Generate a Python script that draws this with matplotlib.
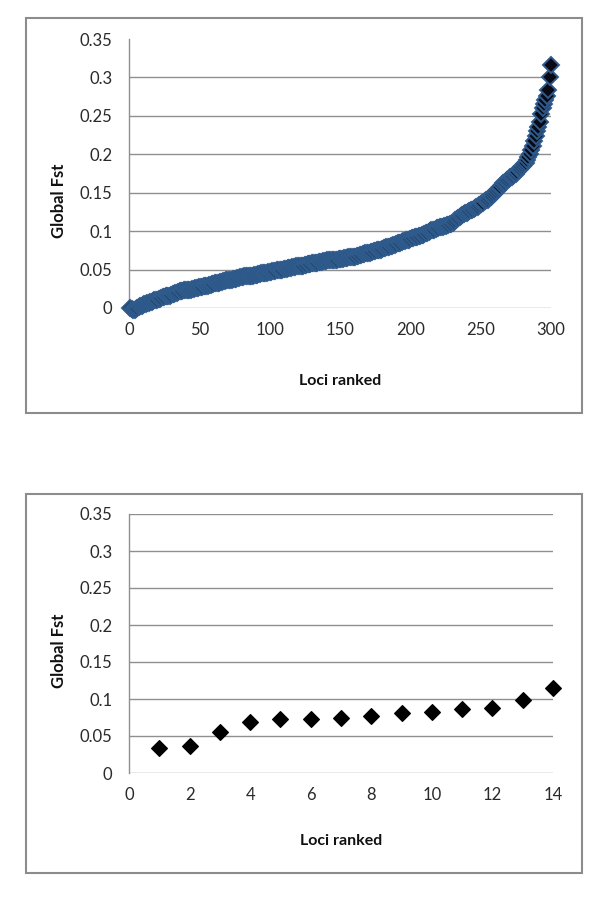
import matplotlib
matplotlib.use("Agg")
import matplotlib.pyplot as plt
from matplotlib.patches import Rectangle

# ---- data: top panel (all loci ranked) ----
fst_all = [
    0.000, -0.001, -0.002, -0.002, -0.001, 0.000, 0.001, 0.002, 0.003, 0.004,
    0.005, 0.005, 0.006, 0.007, 0.008, 0.008, 0.009, 0.010, 0.010, 0.011,
    0.012, 0.012, 0.013, 0.014, 0.014, 0.015, 0.015, 0.016, 0.016, 0.017,
    0.018, 0.018, 0.019, 0.020, 0.021, 0.022, 0.022, 0.022, 0.023, 0.023,
    0.023, 0.024, 0.024, 0.024, 0.025, 0.025, 0.026, 0.026, 0.026, 0.027,
    0.027, 0.027, 0.028, 0.028, 0.029, 0.029, 0.030, 0.030, 0.031, 0.031,
    0.032, 0.032, 0.033, 0.033, 0.034, 0.034, 0.035, 0.035, 0.036, 0.036,
    0.037, 0.037, 0.037, 0.038, 0.038, 0.038, 0.039, 0.039, 0.040, 0.040,
    0.040, 0.041, 0.041, 0.041, 0.042, 0.042, 0.042, 0.042, 0.043, 0.043,
    0.043, 0.044, 0.044, 0.045, 0.045, 0.045, 0.046, 0.046, 0.047, 0.047,
    0.047, 0.048, 0.048, 0.048, 0.049, 0.049, 0.050, 0.050, 0.050, 0.051,
    0.051, 0.051, 0.052, 0.052, 0.052, 0.053, 0.053, 0.053, 0.054, 0.054,
    0.054, 0.055, 0.055, 0.055, 0.056, 0.056, 0.057, 0.057, 0.057, 0.058,
    0.058, 0.059, 0.059, 0.059, 0.060, 0.060, 0.060, 0.061, 0.061, 0.061,
    0.062, 0.062, 0.062, 0.062, 0.063, 0.063, 0.063, 0.063, 0.064, 0.064,
    0.064, 0.064, 0.065, 0.065, 0.065, 0.066, 0.066, 0.066, 0.067, 0.067,
    0.067, 0.068, 0.068, 0.069, 0.069, 0.070, 0.070, 0.071, 0.071, 0.072,
    0.072, 0.073, 0.073, 0.074, 0.074, 0.075, 0.075, 0.076, 0.076, 0.077,
    0.078, 0.078, 0.079, 0.079, 0.080, 0.081, 0.081, 0.082, 0.082, 0.083,
    0.084, 0.084, 0.085, 0.086, 0.087, 0.087, 0.088, 0.089, 0.089, 0.090,
    0.091, 0.091, 0.092, 0.093, 0.093, 0.094, 0.094, 0.095, 0.095, 0.096,
    0.097, 0.098, 0.099, 0.100, 0.101, 0.102, 0.102, 0.103, 0.104, 0.104,
    0.105, 0.106, 0.106, 0.107, 0.107, 0.108, 0.108, 0.109, 0.109, 0.110,
    0.112, 0.114, 0.116, 0.117, 0.119, 0.120, 0.121, 0.122, 0.123, 0.124,
    0.125, 0.126, 0.127, 0.128, 0.129, 0.130, 0.131, 0.132, 0.134, 0.135,
    0.136, 0.137, 0.139, 0.140, 0.141, 0.143, 0.145, 0.146, 0.148, 0.150,
    0.152, 0.154, 0.156, 0.158, 0.160, 0.162, 0.163, 0.165, 0.166, 0.168,
    0.170, 0.171, 0.172, 0.174, 0.175, 0.177, 0.179, 0.181, 0.183, 0.185,
    0.187, 0.189, 0.192, 0.196, 0.200, 0.205, 0.211, 0.217, 0.224, 0.230,
    0.236, 0.242, 0.252, 0.260, 0.265, 0.270, 0.276, 0.283, 0.300, 0.316,
]
rank_all = list(range(1, len(fst_all) + 1))

# ---- data: bottom panel (selected loci ranked) ----
rank_sel = [1, 2, 3, 4, 5, 6, 7, 8, 9, 10, 11, 12, 13, 14]
fst_sel = [0.034, 0.037, 0.056, 0.069, 0.073, 0.073, 0.074,
           0.077, 0.081, 0.082, 0.086, 0.088, 0.099, 0.115]

yticks = [0, 0.05, 0.1, 0.15, 0.2, 0.25, 0.3, 0.35]
ytick_labels = ["0", "0.05", "0.1", "0.15", "0.2", "0.25", "0.3", "0.35"]
xticks_top = [0, 50, 100, 150, 200, 250, 300]
xticks_bot = [0, 2, 4, 6, 8, 10, 12, 14]

x_label = "Loci ranked"
y_label = "Global Fst"

plt.rcParams['font.family'] = ['Lato', 'DejaVu Sans']

W, H = 600, 898
fig = plt.figure(figsize=(W / 100, H / 100), dpi=100)

def fx(px):
    return px / W

def fy(py):
    return 1 - py / H

# panel borders
for (x0, y0, x1, y1) in [(26, 18, 582, 413), (26, 494, 582, 873)]:
    fig.patches.append(Rectangle((fx(x0), fy(y1)), fx(x1) - fx(x0), fy(y0) - fy(y1),
                                 transform=fig.transFigure, fill=False,
                                 edgecolor='#8c8c8c', linewidth=1.5))

grid_col = '#8f8f8f'
tick_col = '#2a2a2a'

def style(ax, xticks, xmax, grid_vals, ylab_y, xlab_y):
    ax.set_xlim(0, xmax)
    ax.set_ylim(0, 0.35)
    ax.set_xticks(xticks)
    ax.set_xticklabels([str(t) for t in xticks])
    ax.set_yticks(yticks)
    ax.set_yticklabels(ytick_labels)
    for v in grid_vals:
        ax.axhline(v, color=grid_col, linewidth=1.0, zorder=0)
    for s in ['top', 'right', 'bottom']:
        ax.spines[s].set_visible(False)
    ax.spines['left'].set_color(grid_col)
    ax.spines['left'].set_linewidth(1.0)
    ax.tick_params(axis='both', length=0, labelsize=12, colors=tick_col)
    ax.tick_params(axis='y', pad=12)
    ax.tick_params(axis='x', pad=10)
    ax.set_ylabel(y_label, fontsize=12, fontweight='bold', color='#111111')
    ax.yaxis.set_label_coords(-0.146, ylab_y)
    ax.set_xlabel(x_label, fontsize=11.5, fontweight='bold', color='#111111')
    ax.xaxis.set_label_coords(0.5, xlab_y)

# top axes
ax1 = fig.add_axes([fx(129), fy(308), fx(551) - fx(129), fy(39) - fy(308)])
ax1.set_facecolor('none')
style(ax1, xticks_top, 300, [0, 0.05, 0.1, 0.15, 0.2, 0.25, 0.3], 0.40, -0.245)
ax1.plot(rank_all, fst_all, linestyle='none', marker='D', markersize=8.5,
         markerfacecolor='#0a0a14', markeredgecolor='#2e5a8c',
         markeredgewidth=1.4, clip_on=False, zorder=3)

# bottom axes
ax2 = fig.add_axes([fx(129), fy(773), fx(553) - fx(129), fy(514) - fy(773)])
ax2.set_facecolor('none')
style(ax2, xticks_bot, 14, yticks, 0.47, -0.235)
ax2.plot(rank_sel, fst_sel, linestyle='none', marker='D', markersize=8.5,
         markerfacecolor='#000000', markeredgecolor='#000000',
         markeredgewidth=0.8, clip_on=False, zorder=3)

fig.savefig('out.png', dpi=100)
